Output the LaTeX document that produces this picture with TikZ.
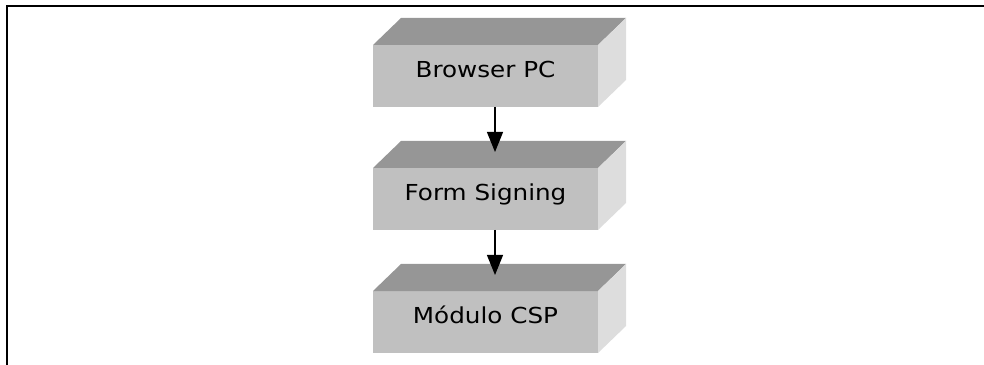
\documentclass[tikz,border=0pt]{standalone}
\usepackage{fontspec}
\usetikzlibrary{arrows.meta, positioning}
\newfontfamily\boxfont[FakeStretch=1.12]{DejaVu Sans}
\definecolor{frontgray}{HTML}{C0C0C0}
\definecolor{topgray}{HTML}{969696}
\definecolor{sidegray}{HTML}{DDDDDD}

\begin{document}
\begin{tikzpicture}[x=1pt, y=1pt,
	block/.style={fill=frontgray, minimum width=225pt, minimum height=62pt,
		inner sep=0pt, outer sep=0pt, text height=12pt, text depth=8.5pt,
		font=\boxfont\fontsize{22}{26}\selectfont}]
	\clip (0,0) rectangle (984,364);
	\draw [line width=2pt] (7,-10) -- (7,358) -- (1000,358);
	\node [block] (browser) at (485.5,288) {Browser PC};
	\node [block, below=61pt of browser] (signing) {Form Signing};
	\node [block, below=61pt of signing] (csp) {Módulo CSP};
	% top and side faces of each block
	\foreach \b in {browser, signing, csp} {
		\fill [topgray] (\b.north west) -- ++(28,27) -- ++(225,0) -- (\b.north east) -- cycle;
		\fill [sidegray] (\b.north east) -- ++(28,27) -- ++(0,-62) -- (\b.south east) -- cycle;
	}
	\draw [line width=1.1pt, -{Triangle[length=20pt, width=16pt]}] ([xshift=9.5pt]browser.south) -- ([xshift=9.5pt, yshift=16pt]signing.north);
	\draw [line width=1.1pt, -{Triangle[length=20pt, width=16pt]}] ([xshift=9.5pt]signing.south) -- ([xshift=9.5pt, yshift=16pt]csp.north);
\end{tikzpicture}
\end{document}
